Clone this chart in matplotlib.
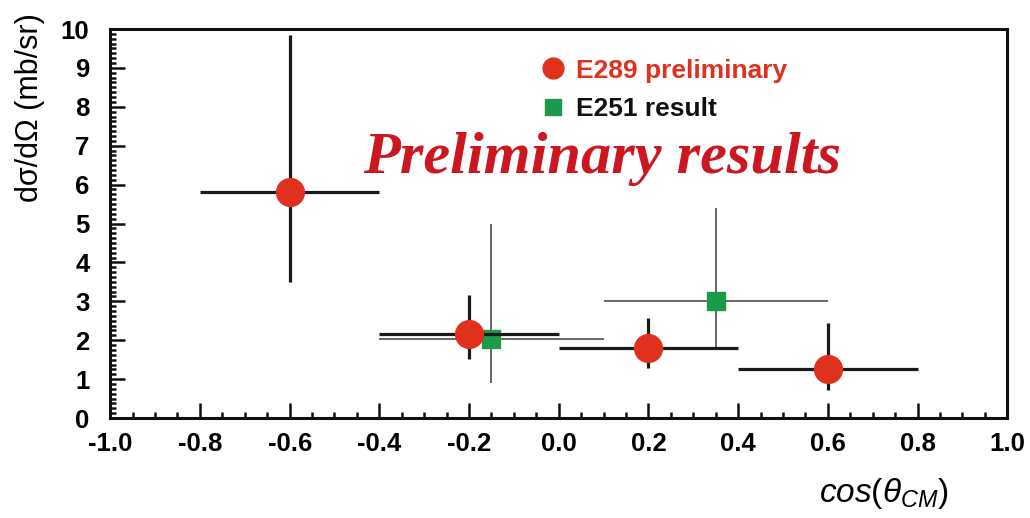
import matplotlib
matplotlib.use("Agg")
import matplotlib.pyplot as plt
from matplotlib.lines import Line2D
from matplotlib.ticker import MultipleLocator

# E289 preliminary cross sections
e289_x = [-0.6, -0.2, 0.2, 0.6]
e289_y = [5.8, 2.17, 1.8, 1.26]
e289_xerr = [0.2, 0.2, 0.2, 0.2]
e289_ylo = [2.3, 0.65, 0.51, 0.54]
e289_yhi = [4.05, 0.99, 0.77, 1.18]

# E251 published result
e251_x = [-0.15, 0.35]
e251_y = [2.03, 3.02]
e251_xerr = [0.25, 0.25]
e251_ylo = [1.13, 1.19]
e251_yhi = [2.97, 2.38]

xtick_vals = [-1.0, -0.8, -0.6, -0.4, -0.2, 0.0, 0.2, 0.4, 0.6, 0.8, 1.0]
ytick_vals = list(range(0, 11))

red = "#e0301e"
green = "#1b9a4a"

plt.rcParams["font.family"] = ["Liberation Sans", "DejaVu Sans"]
plt.rcParams["mathtext.fontset"] = "custom"
plt.rcParams["mathtext.rm"] = "Liberation Sans"
plt.rcParams["mathtext.it"] = "Liberation Sans:italic"

fig = plt.figure(figsize=(10.30, 5.18), dpi=100)
ax = fig.add_axes([0.107, 0.193, 0.871, 0.751])

ax.errorbar(e251_x, e251_y, xerr=e251_xerr, yerr=[e251_ylo, e251_yhi],
            fmt="s", ms=13, color=green, ecolor="#5a5a5a", elinewidth=1.3,
            capsize=0, zorder=3)
ax.errorbar(e289_x, e289_y, xerr=e289_xerr, yerr=[e289_ylo, e289_yhi],
            fmt="o", ms=20, color=red, ecolor="#1a1a1a", elinewidth=2.3,
            capsize=0, zorder=4)

ax.set_xlim(-1.0, 1.0)
ax.set_ylim(0, 10)
ax.xaxis.set_minor_locator(MultipleLocator(0.05))
ax.yaxis.set_minor_locator(MultipleLocator(0.125))
ax.set_xticks(xtick_vals)
ax.set_xticklabels(["%.1f" % v for v in xtick_vals], fontweight="bold")
ax.set_yticks(ytick_vals)
ax.set_yticklabels([str(v) for v in ytick_vals], fontweight="bold")
ax.tick_params(which="both", direction="in", top=False, right=False,
               width=1.8, color="#111111", labelsize=18.5)
ax.tick_params(which="major", length=11)
ax.tick_params(which="minor", length=4.5)
ax.tick_params(axis="x", pad=10)
ax.tick_params(axis="y", pad=15)
for s in ax.spines.values():
    s.set_linewidth(2.2)
    s.set_color("#111111")

# axis titles
fig.text(0.029, 0.975, "dσ/dΩ (mb/sr)", fontsize=22, rotation=90,
         ha="center", va="top")
fig.text(0.921, 0.014, r"$cos(\theta_{CM})$", fontsize=24, ha="right",
         va="bottom")

handles = [Line2D([], [], ls="none", marker="o", ms=15, color=red),
           Line2D([], [], ls="none", marker="s", ms=12, color=green)]
leg = ax.legend(handles, ["E289 preliminary", "E251 result"],
                loc="upper left", bbox_to_anchor=(0.455, 0.985), frameon=False,
                handlelength=0.8, handletextpad=0.5, labelspacing=0.55,
                prop={"weight": "bold", "size": 19})
leg.get_texts()[0].set_color(red)
leg.get_texts()[1].set_color("#111111")

ax.text(0.548, 0.665, "Preliminary results", transform=ax.transAxes,
        ha="center", va="center", fontsize=43.5, color="#cc1620",
        family="Liberation Serif", weight="bold", style="italic")

fig.savefig("out.png", dpi=100)
